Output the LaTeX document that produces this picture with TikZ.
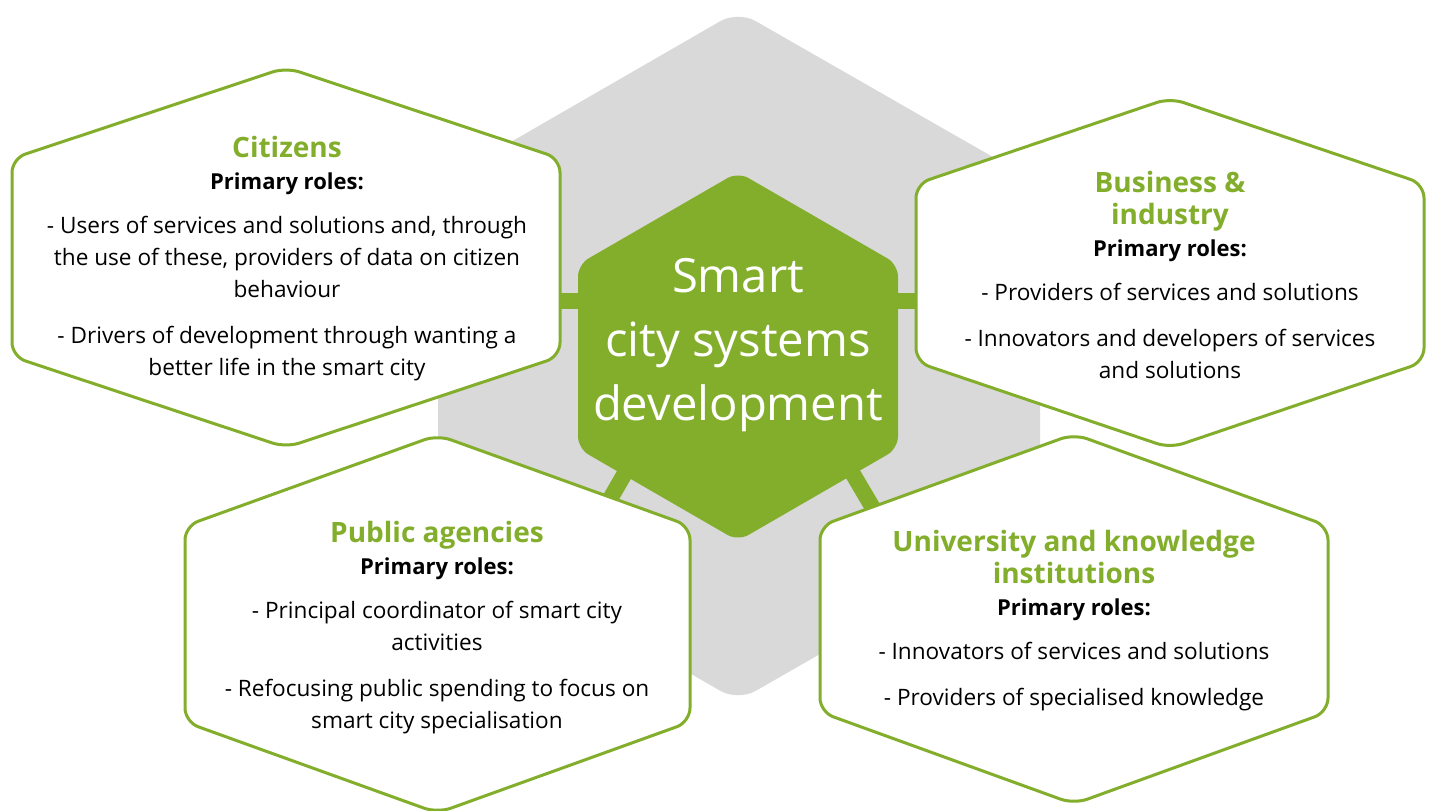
\documentclass[tikz,border=0pt]{standalone}
\usepackage{fontspec}
\setmainfont{Open Sans}
\definecolor{sgreen}{HTML}{82AE2C}
\definecolor{sgray}{HTML}{D9D9D9}
\newcommand\hextitle[1]{{\fontsize{14}{16}\selectfont\bfseries\color{sgreen}#1}}
\newcommand\primroles{{\fontsize{11}{16}\selectfont\bfseries Primary roles:}}
\newcommand\wbox[5]{\draw[whitehex] ({#1-#3},#2) -- ({#1-#3},{#2-#5}) -- (#1,{#2-#4}) -- ({#1+#3},{#2-#5}) -- ({#1+#3},{#2+#5}) -- (#1,{#2+#4}) -- ({#1-#3},{#2+#5}) -- cycle;}
\begin{document}
\begin{tikzpicture}[x=0.5pt,y=-0.5pt,
  whitehex/.style={draw=sgreen, line width=1.5pt, fill=white, rounded corners=7pt},
  bar/.style={draw=sgreen, line width=8pt},
  body/.style={align=center, font=\fontsize{11.3}{16}\selectfont, text=black, inner sep=0pt},
  coretext/.style={align=center, font=\fontsize{23.6}{32}\selectfont, text=white, inner sep=0pt}]
\useasboundingbox (0,0) rectangle (1432,810);
\fill[white] (0,0) rectangle (1432,810);
% background grey hexagon
\fill[sgray, rounded corners=10pt] (438,356) -- (438,184) -- (738,11) -- (1040,184) -- (1040,528) -- (738,701) -- (438,528) -- cycle;
% connector bars
\coordinate (bL1) at (650,301); \coordinate (bL2) at (540,301);
\coordinate (bR1) at (826,301); \coordinate (bR2) at (940,301);
\coordinate (bBL1) at (650,430); \coordinate (bBL2) at (599,518);
\coordinate (bBR1) at (827,430); \coordinate (bBR2) at (880,520);
\draw[bar] (bL1) -- (bL2);
\draw[bar] (bR1) -- (bR2);
\draw[bar] (bBL1) -- (bBL2);
\draw[bar] (bBR1) -- (bBR2);
% central green hexagon
\fill[sgreen, rounded corners=6pt] (578,356.5) -- (578,264.5) -- (738,172) -- (898,264.5) -- (898,448.5) -- (738,541) -- (578,448.5) -- cycle;
\node[coretext] (core) at (738,345.5) {Smart\\city systems\\development};
% white hexagons
\wbox{286}{257.5}{274}{190}{99}
\wbox{1170}{273}{254}{175}{89}
\wbox{437.5}{624}{252.5}{189}{98}
\wbox{1074}{619}{254}{185}{93}
\node[body] (citizens) at (287,258.5) {\hextitle{Citizens}\\[0pt]
\primroles\\[6pt]
- Users of services and solutions and, through\\
the use of these, providers of data on citizen\\
behaviour\\[7pt]
- Drivers of development through wanting a\\
better life in the smart city};
\node[body] (business) at (1170,274.5) {\hextitle{Business \&}\\
\hextitle{industry}\\[0pt]
\primroles\\[6pt]
- Providers of services and solutions\\[7pt]
- Innovators and developers of services\\
and solutions};
\node[body] (public) at (437,627.5) {\hextitle{Public agencies}\\[0pt]
\primroles\\[6pt]
- Principal coordinator of smart city\\
activities\\[7pt]
- Refocusing public spending to focus on\\
smart city specialisation};
\node[body] (university) at (1074,620.5) {\hextitle{University and knowledge}\\
\hextitle{institutions}\\[0pt]
\primroles\\[6pt]
- Innovators of services and solutions\\[7pt]
- Providers of specialised knowledge};
\end{tikzpicture}
\end{document}
